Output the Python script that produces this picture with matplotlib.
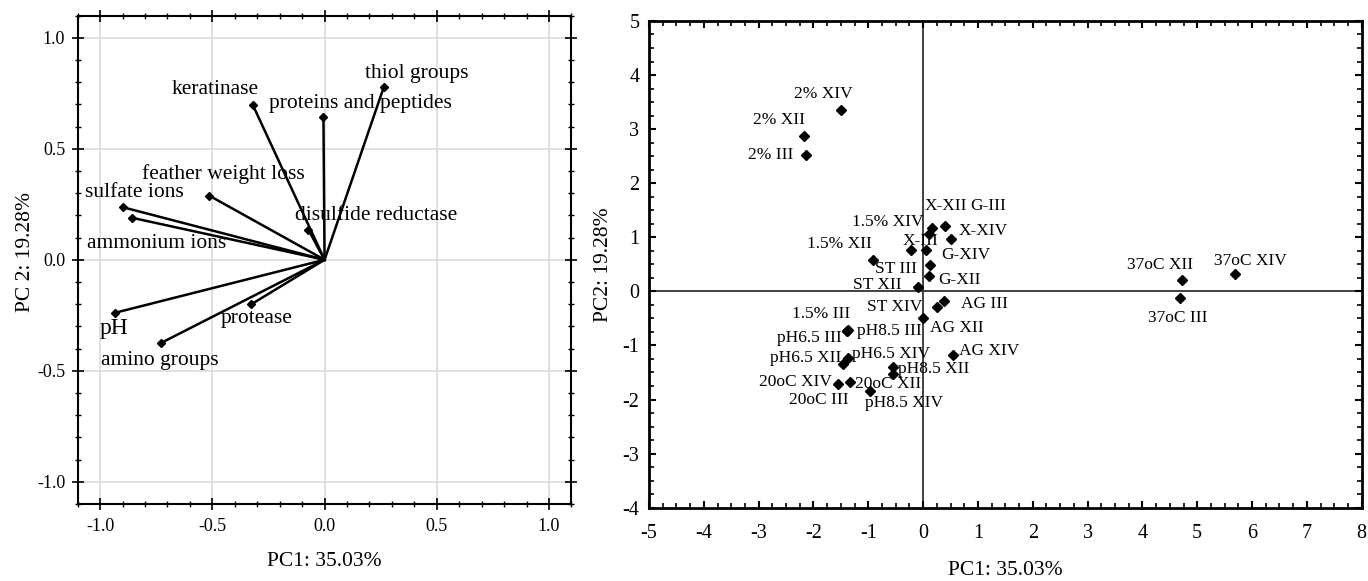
import numpy as np
import matplotlib
matplotlib.use("Agg")
import matplotlib.pyplot as plt
from matplotlib.ticker import MultipleLocator, FormatStrFormatter

plt.rcParams['font.family'] = ['Liberation Serif', 'DejaVu Serif']
plt.rcParams['axes.unicode_minus'] = False

# --- loadings (left panel) ---
variables = ["thiol groups", "keratinase", "proteins and peptides", "feather weight loss",
             "sulfate ions", "ammonium ions", "disulfide reductase", "pH",
             "amino groups", "protease"]
load_pc1 = [0.264, -0.319, -0.005, -0.514, -0.896, -0.857, -0.072, -0.934, -0.729, -0.327]
load_pc2 = [0.778, 0.696, 0.642, 0.289, 0.236, 0.189, 0.135, -0.239, -0.375, -0.201]

# --- scores (right panel) ---
samples = ["2% XIV", "2% XII", "2% III",
           "X-XII", "G-III", "X-III", "X-XIV",
           "1.5% XIV", "G-XIV", "1.5% XII", "ST III", "G-XII", "ST XII",
           "AG III", "ST XIV", "AG XII",
           "1.5% III", "pH6.5 III", "pH8.5 III",
           "pH6.5 XIV", "pH6.5 XII",
           "pH8.5 XII", "20oC III", "AG XIV",
           "20oC XIV", "20oC XII", "pH8.5 XIV",
           "37oC XII", "37oC XIV", "37oC III"]
score_pc1 = [-1.50, -2.18, -2.14,
             0.16, 0.40, 0.10, 0.50,
             -0.22, 0.06, -0.91, 0.13, 0.10, -0.10,
             0.38, 0.25, 0.00,
             -1.38, -1.39, -1.37,
             -1.37, -1.47,
             -0.55, -0.55, 0.54,
             -1.56, -1.34, -0.97,
             4.72, 5.68, 4.68]
score_pc2 = [3.35, 2.87, 2.53,
             1.18, 1.21, 1.06, 0.96,
             0.77, 0.77, 0.58, 0.49, 0.29, 0.08,
             -0.18, -0.29, -0.49,
             -0.73, -0.74, -0.72,
             -1.24, -1.34,
             -1.40, -1.52, -1.17,
             -1.71, -1.68, -1.84,
             0.21, 0.33, -0.13]

# label placement (data coords, text centre)
var_text_xy = [(0.412, 0.841), (-0.486, 0.769), (0.160, 0.706), (-0.453, 0.385),
               (-0.848, 0.301), (-0.750, 0.075), (0.232, 0.201), (-0.940, -0.309),
               (-0.733, -0.452), (-0.303, -0.264)]
sample_text_xy = [(-1.82, 3.65), (-2.62, 3.17), (-2.78, 2.52),
                  (0.42, 1.57), (1.19, 1.57), (-0.04, 0.94), (1.10, 1.11),
                  (-0.64, 1.28), (0.78, 0.68), (-1.52, 0.87), (-0.50, 0.41), (0.67, 0.21), (-0.83, 0.12),
                  (1.12, -0.23), (-0.52, -0.29), (0.61, -0.67),
                  (-1.86, -0.42), (-2.08, -0.86), (-0.61, -0.74),
                  (-0.58, -1.15), (-2.14, -1.24),
                  (0.20, -1.44), (-1.90, -2.00), (1.21, -1.10),
                  (-2.33, -1.67), (-0.63, -1.72), (-0.34, -2.06),
                  (4.32, 0.48), (5.97, 0.56), (4.65, -0.49)]

fig = plt.figure(figsize=(13.68, 5.81), dpi=100)

# ---------------- left: loadings ----------------
ax1 = fig.add_axes([0.0568, 0.1327, 0.3609, 0.8404])
for i in range(len(variables)):
    ax1.plot([0, load_pc1[i]], [0, load_pc2[i]], color="black", lw=1.8, zorder=3)
ax1.plot(load_pc1, load_pc2, "D", color="black", ms=4.5, zorder=4)
for i, name in enumerate(variables):
    tx, ty = var_text_xy[i]
    fs = 17 if name == "pH" else 15.5
    ax1.text(tx, ty, name, ha="center", va="center", fontsize=fs, zorder=5)

ax1.set_xlim(-1.1, 1.1)
ax1.set_ylim(-1.1, 1.1)
ax1.xaxis.set_major_locator(MultipleLocator(0.5))
ax1.yaxis.set_major_locator(MultipleLocator(0.5))
ax1.xaxis.set_minor_locator(MultipleLocator(0.1))
ax1.yaxis.set_minor_locator(MultipleLocator(0.1))
ax1.xaxis.set_major_formatter(FormatStrFormatter("%.1f"))
ax1.yaxis.set_major_formatter(FormatStrFormatter("%.1f"))
ax1.grid(True, which="major", color="#dcdcdc", lw=1.2, zorder=0)
ax1.set_axisbelow(True)
ax1.tick_params(which="both", direction="inout", top=True, right=True, labelsize=13)
ax1.tick_params(which="major", length=8, width=1.2)
ax1.tick_params(which="minor", length=5, width=1.0)
ax1.tick_params(axis="y", pad=5)
ax1.tick_params(axis="x", pad=6)
for s in ax1.spines.values():
    s.set_linewidth(1.5)
ax1.set_xlabel("PC1: 35.03%", fontsize=15.5)
ax1.xaxis.set_label_coords(0.5, -0.099)
ax1.set_ylabel("PC 2: 19.28%", fontsize=15.5)
ax1.yaxis.set_label_coords(-0.086, 0.515)

# ---------------- right: scores ----------------
ax2 = fig.add_axes([0.4744, 0.1262, 0.5210, 0.8377])
ax2.axhline(0, color="#333333", lw=1.3, zorder=1)
ax2.axvline(0, color="#333333", lw=1.3, zorder=1)
ax2.plot(score_pc1, score_pc2, "D", color="black", ms=5, zorder=3)
for i, name in enumerate(samples):
    tx, ty = sample_text_xy[i]
    ax2.text(tx, ty, name, ha="center", va="center", fontsize=12.5, zorder=4)

ax2.set_xlim(-5, 8)
ax2.set_ylim(-4, 5)
ax2.xaxis.set_major_locator(MultipleLocator(1))
ax2.yaxis.set_major_locator(MultipleLocator(1))
ax2.xaxis.set_minor_locator(MultipleLocator(0.25))
ax2.yaxis.set_minor_locator(MultipleLocator(0.25))
ax2.tick_params(which="both", direction="in", top=True, right=True, labelsize=14.5)
ax2.tick_params(which="major", length=5, width=1.5)
ax2.tick_params(which="minor", length=3.5, width=1.2)
ax2.tick_params(axis="y", pad=7)
ax2.tick_params(axis="x", pad=12)
for s in ax2.spines.values():
    s.set_linewidth(2)
ax2.set_xlabel("PC1: 35.03%", fontsize=15.5)
ax2.xaxis.set_label_coords(0.5, -0.11)
ax2.set_ylabel("PC2: 19.28%", fontsize=15.5)
ax2.yaxis.set_label_coords(-0.05, 0.5)

fig.savefig("out.png", dpi=100)
